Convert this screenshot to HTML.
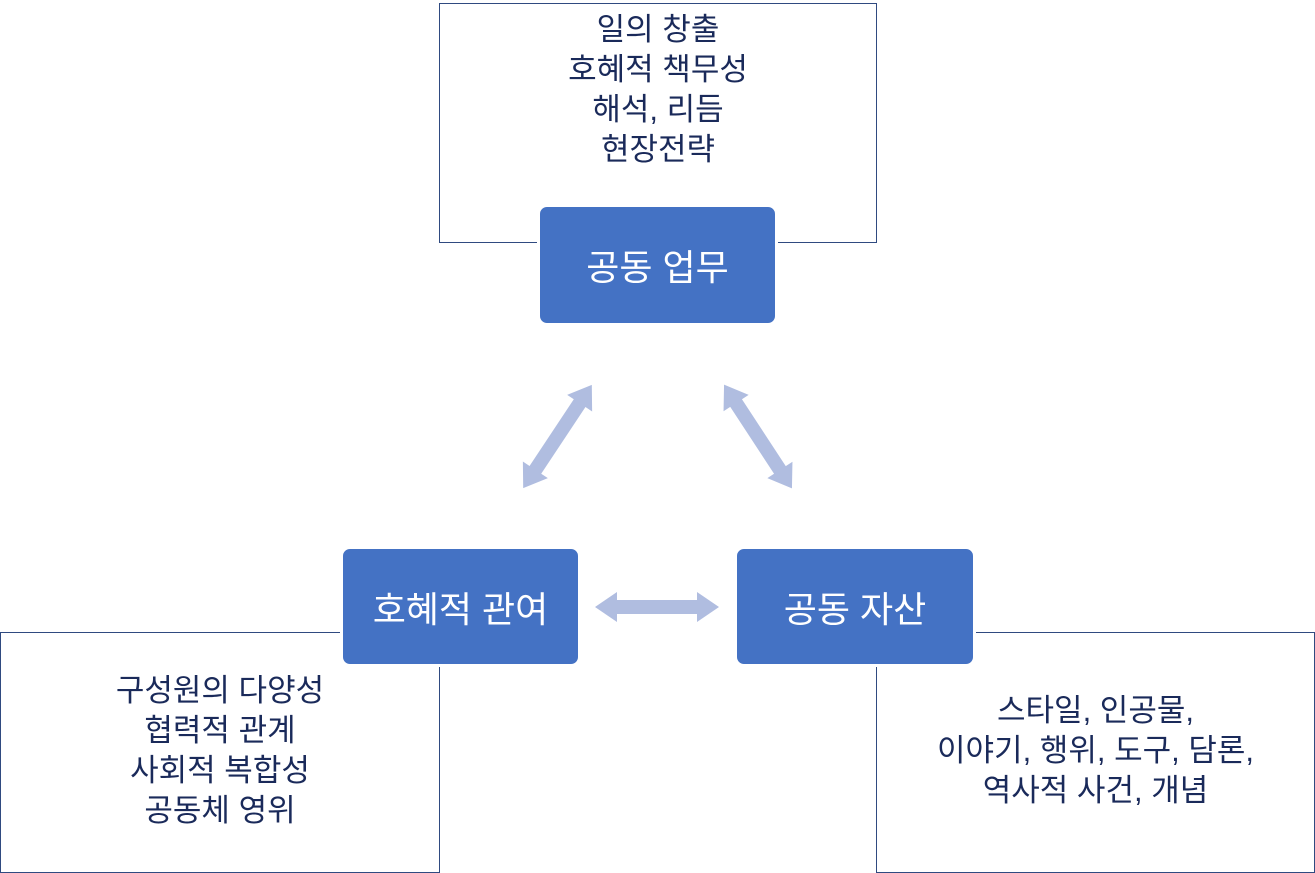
<!DOCTYPE html>
<html><head><meta charset="utf-8"><style>
html,body{margin:0;padding:0;background:#fff;}
body{width:1315px;height:873px;position:relative;overflow:hidden;font-family:"Liberation Sans","Noto Sans CJK KR",sans-serif;}
.ob{position:absolute;border:1.5px solid #2f4a80;box-sizing:border-box;background:#fff;}
.bb{position:absolute;background:#4472c4;border:3px solid #fff;border-radius:10px;box-sizing:border-box;color:#fff;font-size:36px;display:flex;align-items:center;justify-content:center;}
.t{position:absolute;color:#1a2a5a;font-size:31px;line-height:40px;text-align:center;}
</style></head><body>
<div class="ob" style="left:439px;top:3px;width:438px;height:240px;"></div>
<div class="ob" style="left:0px;top:632px;width:440px;height:241px;"></div>
<div class="ob" style="left:876px;top:632px;width:439px;height:241px;"></div>
<div class="t" style="left:439px;width:438px;top:10px;">일의 창출<br>호혜적 책무성<br>해석, 리듬<br>현장전략</div>
<div class="t" style="left:0px;width:440px;top:671px;">구성원의 다양성<br>협력적 관계<br>사회적 복합성<br>공동체 영위</div>
<div class="t" style="left:876px;width:439px;top:691px;">스타일, 인공물,<br>이야기, 행위, 도구, 담론,<br>역사적 사건, 개념</div>
<div class="bb" style="left:537px;top:204px;width:241px;height:122px;">공동 업무</div>
<div class="bb" style="left:340px;top:546px;width:241px;height:121px;">호혜적 관여</div>
<div class="bb" style="left:734px;top:546px;width:242px;height:121px;">공동 자산</div>
<svg width="1315" height="873" style="position:absolute;left:0;top:0;">
<defs><polygon id="a" points="-62,0 -40,-15 -40,-7 40,-7 40,-15 62,0 40,15 40,7 -40,7 -40,15" fill="#b0bde0"/></defs>
<use href="#a" transform="translate(657,607)"/>
<use href="#a" transform="translate(557.5,436.5) rotate(123.6)"/>
<use href="#a" transform="translate(758,436.5) rotate(56.8)"/>
</svg>
</body></html>
